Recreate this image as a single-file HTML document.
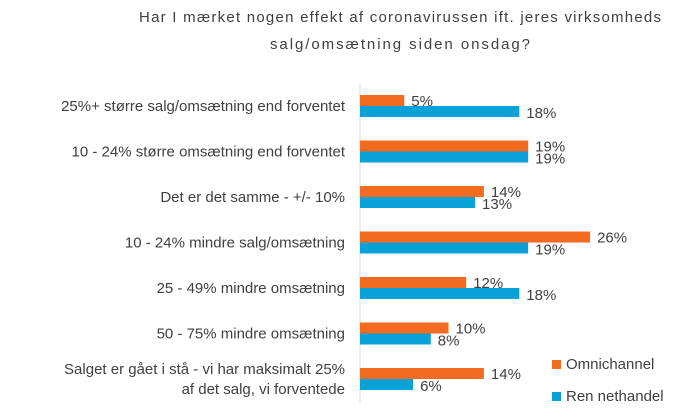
<!DOCTYPE html>
<html><head><meta charset="utf-8"><style>
body{margin:0;background:#fff;}
svg text{font-family:"Liberation Sans",sans-serif;fill:#404040;}
</style></head><body>
<svg id="chart" width="678" height="414" xmlns="http://www.w3.org/2000/svg">
<text x="400" y="22" font-size="15" text-anchor="middle" textLength="522" lengthAdjust="spacing">Har I mærket nogen effekt af coronavirussen ift. jeres virksomheds</text>
<text x="400" y="49" font-size="15" text-anchor="middle" textLength="260" lengthAdjust="spacing">salg/omsætning siden onsdag?</text>
<line x1="360" y1="83" x2="360" y2="402" stroke="#d9d9d9" stroke-width="1"/>
<g id="bars"></g>
<rect x="552" y="360" width="9" height="9" fill="#f26b21"/>
<text x="566" y="369" font-size="15">Omnichannel</text>
<rect x="552" y="392" width="9" height="9" fill="#0aa0d8"/>
<text x="566" y="401" font-size="15">Ren nethandel</text>
</svg>
<script>
const categories=[["25%+ større salg/omsætning end forventet"],["10 - 24% større omsætning end forventet"],["Det er det samme - +/- 10%"],["10 - 24% mindre salg/omsætning"],["25 - 49% mindre omsætning"],["50 - 75% mindre omsætning"],["Salget er gået i stå - vi har maksimalt 25%","af det salg, vi forventede"]];
const omnichannel=[5,19,14,26,12,10,14];
const renNethandel=[18,19,13,19,18,8,6];
const NS="http://www.w3.org/2000/svg";
const g=document.getElementById('bars');
const x0=360,k=8.85,top0=95,step=45.5,bh=11;
function xs(v){return v*k;}
function yc(i){return top0+i*step;}
function mk(t,a){const e=document.createElementNS(NS,t);for(const n in a)e.setAttribute(n,a[n]);g.appendChild(e);return e;}
categories.forEach((c,i)=>{
  const y=yc(i);
  const r1=mk('rect',{x:x0,y:y,width:xs(omnichannel[i]),height:bh,fill:'#f26b21'});
  
  
  const r2=mk('rect',{x:x0,y:y+bh,width:xs(renNethandel[i]),height:bh,fill:'#0aa0d8'});
  
  
  const t1=mk('text',{x:x0+xs(omnichannel[i])+7,y:y+11,'font-size':15});
  t1.textContent=omnichannel[i]+'%';
  
  
  const t2=mk('text',{x:x0+xs(renNethandel[i])+7,y:y+23,'font-size':15});
  t2.textContent=renNethandel[i]+'%';
  
  
  const cy=y+bh;
  c.forEach((line,j)=>{
    const ty=cy+5+(j-(c.length-1)/2)*20;
    const t=mk('text',{x:345,y:ty,'font-size':15,'text-anchor':'end'});
    t.textContent=line;
    
    
  });
});
</script>
</body></html>
